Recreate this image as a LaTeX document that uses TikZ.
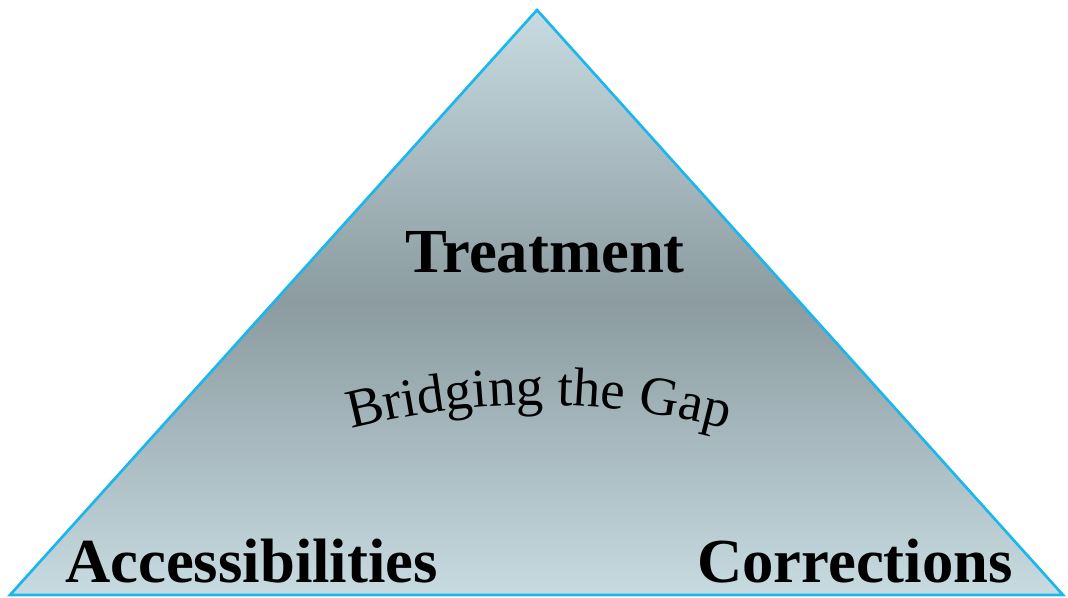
\documentclass[tikz,border=0pt]{standalone}
\usepackage{fontspec}
\setmainfont{Liberation Serif}
\usetikzlibrary{decorations.text}
\definecolor{edgeblue}{HTML}{1CB6EE}
\definecolor{paletop}{HTML}{C7DBE1}
\definecolor{midgrey}{HTML}{8B9BA0}
\begin{document}
\begin{tikzpicture}[x=0.75pt,y=0.75pt]
    \useasboundingbox (0,0) rectangle (1068,598);
    \begin{scope}
        \coordinate (top) at (537,588);
        \coordinate (left) at (10,3);
        \coordinate (right) at (1063,3);
        \shade[top color=paletop, bottom color=paletop, middle color=midgrey] (top) -- (left) -- (right) -- cycle;
        \draw[edgeblue, line width=2pt, line join=miter] (top) -- (left) -- (right) -- cycle;
    \end{scope}
    \begin{scope}
        \tikzstyle{every node}=[text=black, inner sep=0pt, font=\fontsize{47}{50}\selectfont\bfseries]
        \node[anchor=base] (treat) at (545,325) {Treatment};
        \node[anchor=base west] (access) at (65,15) {Accessibilities};
        \node[anchor=base east] (correct) at (1013,15) {Corrections};
    \end{scope}
    \path[decorate, decoration={text along path, text align=center,
        text={|\fontsize{41}{44}\selectfont|Bridging the Gap}}]
        (341,166) .. controls (470,202) and (610,202) .. (737,166);
\end{tikzpicture}
\end{document}
